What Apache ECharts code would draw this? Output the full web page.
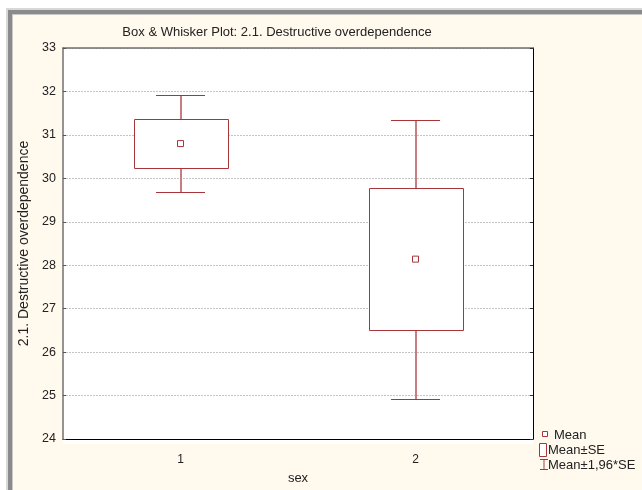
<!DOCTYPE html>
<html>
<head>
<meta charset="utf-8">
<script src="https://cdn.jsdelivr.net/npm/echarts@6/dist/echarts.min.js"></script>
<style>
  html, body { margin: 0; padding: 0; background: #ffffff; }
  #chart { width: 642px; height: 490px; }
</style>
</head>
<body>
<div id="chart"></div>
<script>
// Group labels on the x axis
const categories = ['1', '2'];
// Mean of the score per group
const means = [30.80, 28.14];
// Mean ± standard error (box)
const seLow = [30.23, 26.51];
const seHigh = [31.37, 29.77];
// Mean ± 1.96 * standard error (whiskers)
const ciLow = [29.68, 24.93];
const ciHigh = [31.91, 31.34];
// Value axis range
const yMin = 24;
const yMax = 33;
const yStep = 1;

const RED = '#a8353a';
const RED_SOFT = '#c57f82';
const FONT = 'Arial, "Liberation Sans", sans-serif';
const TEXT = '#222222';

const GRID = { left: 63, top: 48, width: 470, height: 396 };

const boxData = categories.map((c, i) => [i, seLow[i], seHigh[i]]);
const whiskerData = categories.map((c, i) => [i, ciLow[i], ciHigh[i], seLow[i], seHigh[i]]);
const meanData = categories.map((c, i) => [i, means[i]]);

const crisp = v => Math.round(v) + 0.5;

function renderBox(params, api) {
  const i = api.value(0);
  const band = api.size([1, 0])[0];
  const cx = api.coord([i, 0])[0];
  const yLo = api.coord([i, api.value(1)])[1];
  const yHi = api.coord([i, api.value(2)])[1];
  const half = band * 0.2;
  const x0 = crisp(cx - half), x1 = crisp(cx + half);
  return {
    type: 'rect',
    shape: { x: x0, y: crisp(yHi), width: x1 - x0, height: Math.round(yLo) - Math.round(yHi) },
    style: { fill: '#ffffff', stroke: RED, lineWidth: 1 }
  };
}

function renderWhisker(params, api) {
  const i = api.value(0);
  const band = api.size([1, 0])[0];
  const cx = api.coord([i, 0])[0];
  const yLo = api.coord([i, api.value(1)])[1];
  const yHi = api.coord([i, api.value(2)])[1];
  const yBoxLo = api.coord([i, api.value(3)])[1];
  const yBoxHi = api.coord([i, api.value(4)])[1];
  const cap = band * 0.104;
  const xc = Math.round(cx);
  return {
    type: 'group',
    children: [
      { type: 'line', shape: { x1: xc, y1: Math.round(yHi), x2: xc, y2: Math.round(yBoxHi) },
        style: { stroke: RED_SOFT, lineWidth: 2 } },
      { type: 'line', shape: { x1: xc, y1: Math.round(yBoxLo), x2: xc, y2: Math.round(yLo) },
        style: { stroke: RED_SOFT, lineWidth: 2 } },
      { type: 'line', shape: { x1: Math.round(cx - cap), y1: crisp(yHi), x2: Math.round(cx + cap), y2: crisp(yHi) },
        style: { stroke: RED, lineWidth: 1 } },
      { type: 'line', shape: { x1: Math.round(cx - cap), y1: crisp(yLo), x2: Math.round(cx + cap), y2: crisp(yLo) },
        style: { stroke: RED, lineWidth: 1 } }
    ]
  };
}

const chart = echarts.init(document.getElementById('chart'), null, { renderer: 'canvas' });

const option = {
  animation: false,
  backgroundColor: '#ffffff',
  textStyle: { fontFamily: FONT },
  grid: { left: GRID.left, top: GRID.top, width: GRID.width, height: GRID.height, containLabel: false },
  graphic: [
    // window frame and panel background
    { type: 'rect', z: -10, shape: { x: 0, y: 0, width: 642, height: 490 }, style: { fill: '#ffffff' } },
    { type: 'rect', z: -10, shape: { x: 6, y: 8, width: 636, height: 482 }, style: { fill: '#d8d8d8' } },
    { type: 'rect', z: -10, shape: { x: 8, y: 10, width: 634, height: 480 }, style: { fill: '#8a8a8a' } },
    { type: 'rect', z: -10, shape: { x: 12, y: 14, width: 630, height: 476 }, style: { fill: '#c8c8c8' } },
    { type: 'rect', z: -10, shape: { x: 13, y: 15, width: 629, height: 475 }, style: { fill: '#fff9ee' } },
    { type: 'rect', z: -10, shape: { x: GRID.left, y: GRID.top, width: GRID.width, height: GRID.height }, style: { fill: '#ffffff' } },
    // chart title
    { type: 'text', x: 277, y: 32, style: { text: 'Box & Whisker Plot: 2.1. Destructive overdependence', font: '13px ' + FONT, fill: TEXT, textAlign: 'center', textVerticalAlign: 'middle' } },
    // legend
    { type: 'rect', shape: { x: 542.5, y: 431.5, width: 5, height: 5 }, style: { fill: '#ffffff', stroke: RED, lineWidth: 1 } },
    { type: 'text', x: 554, y: 435, style: { text: 'Mean', font: '13px ' + FONT, fill: TEXT, textVerticalAlign: 'middle' } },
    { type: 'rect', shape: { x: 539.5, y: 443.5, width: 7, height: 13 }, style: { fill: '#ffffff', stroke: RED, lineWidth: 1 } },
    { type: 'text', x: 548, y: 450, style: { text: 'Mean±SE', font: '13px ' + FONT, fill: TEXT, textVerticalAlign: 'middle' } },
    { type: 'line', shape: { x1: 544, y1: 459, x2: 544, y2: 470 }, style: { stroke: RED_SOFT, lineWidth: 1.5 } },
    { type: 'line', shape: { x1: 540, y1: 459.5, x2: 548, y2: 459.5 }, style: { stroke: RED, lineWidth: 1 } },
    { type: 'line', shape: { x1: 540, y1: 469.5, x2: 548, y2: 469.5 }, style: { stroke: RED, lineWidth: 1 } },
    { type: 'text', x: 548, y: 465, style: { text: 'Mean±1,96*SE', font: '13px ' + FONT, fill: TEXT, textVerticalAlign: 'middle' } }
  ],
  xAxis: [
    {
      type: 'category',
      data: categories,
      position: 'bottom',
      name: 'sex',
      nameLocation: 'middle',
      nameGap: 33,
      nameTextStyle: { fontSize: 13, color: TEXT, fontFamily: FONT },
      axisLine: { lineStyle: { color: '#000000', width: 1 } },
      axisTick: { inside: true, alignWithLabel: true, length: 4, lineStyle: { color: '#555555' } },
      axisLabel: { fontSize: 12, color: TEXT, margin: 15, fontFamily: FONT },
      splitLine: { show: false }
    },
    {
      type: 'category',
      data: categories,
      position: 'top',
      axisLine: { lineStyle: { color: '#707070', width: 1.5 } },
      axisTick: { inside: true, alignWithLabel: true, length: 4, lineStyle: { color: '#555555' } },
      axisLabel: { show: false },
      splitLine: { show: false }
    }
  ],
  yAxis: [
    {
      type: 'value',
      min: yMin,
      max: yMax,
      interval: yStep,
      position: 'left',
      name: '2.1. Destructive overdependence',
      nameLocation: 'middle',
      nameGap: 29,
      nameRotate: 90,
      nameTextStyle: { fontSize: 14, color: TEXT, fontFamily: FONT },
      axisLine: { show: true, lineStyle: { color: '#707070', width: 1.5 } },
      axisTick: { show: true, inside: true, length: 3, lineStyle: { color: '#555555' } },
      axisLabel: { fontSize: 12.5, color: TEXT, margin: 7, fontFamily: FONT },
      splitLine: { show: true, lineStyle: { color: '#c4c4c4', type: [2, 1], width: 1 } }
    },
    {
      type: 'value',
      min: yMin,
      max: yMax,
      interval: yStep,
      position: 'right',
      axisLine: { show: true, lineStyle: { color: '#000000', width: 1 } },
      axisTick: { show: true, inside: true, length: 3, lineStyle: { color: '#333333' } },
      axisLabel: { show: false },
      splitLine: { show: false }
    }
  ],
  series: [
    {
      name: 'Mean±1,96*SE',
      type: 'custom',
      renderItem: renderWhisker,
      data: whiskerData,
      encode: { x: 0, y: [1, 2] },
      z: 3
    },
    {
      name: 'Mean±SE',
      type: 'custom',
      renderItem: renderBox,
      data: boxData,
      encode: { x: 0, y: [1, 2] },
      z: 4
    },
    {
      name: 'Mean',
      type: 'scatter',
      data: meanData,
      symbol: 'rect',
      symbolSize: 6,
      itemStyle: { color: '#ffffff', borderColor: RED, borderWidth: 1, opacity: 1 },
      z: 5
    }
  ]
};

chart.setOption(option);
</script>
</body>
</html>
